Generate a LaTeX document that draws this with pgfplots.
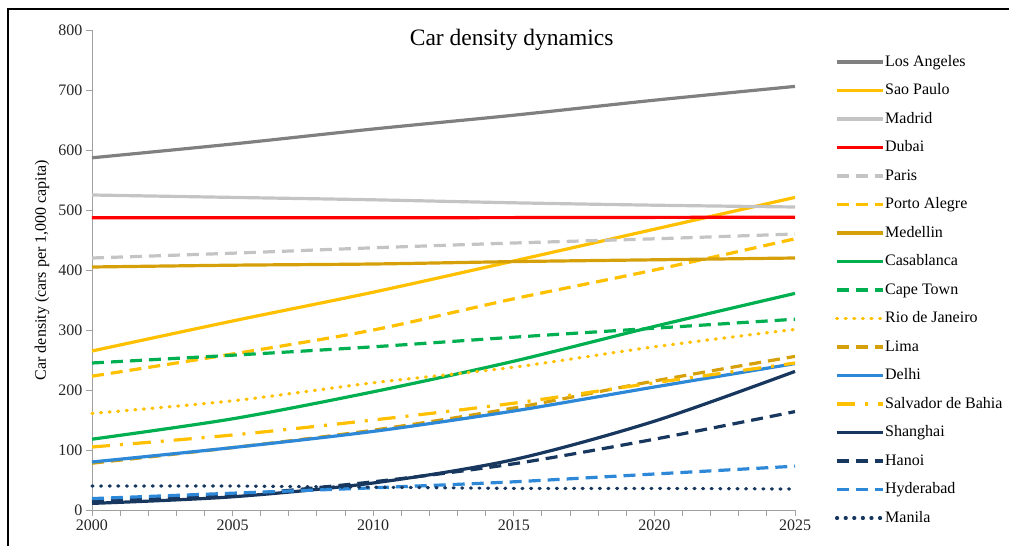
\documentclass[border=0pt]{standalone}
\usepackage{fontspec}
\setmainfont{Liberation Serif}
\usepackage{pgfplots}
\pgfplotsset{compat=1.18}

\definecolor{laGray}{RGB}{128,128,128}
\definecolor{ltGray}{RGB}{196,196,196}
\definecolor{gold}{RGB}{255,192,0}
\definecolor{ochre}{RGB}{214,160,10}
\definecolor{grn}{RGB}{0,176,80}
\definecolor{blu}{RGB}{46,136,216}
\definecolor{navy}{RGB}{23,55,94}
\definecolor{axgray}{RGB}{160,160,160}

\tikzset{
  dashedline/.style={dash pattern=on 12pt off 7pt},
  dottedline/.style={line cap=round, dash pattern=on 1pt off 7.6pt},
  dashdotline/.style={dash pattern=on 18pt off 10pt on 3pt off 10pt},
}

\begin{document}
\begin{tikzpicture}
\begin{axis}[
  at={(0,0)}, anchor=south west,
  scale only axis,
  width=703pt, height=480pt,
  xmin=2000, xmax=2025, ymin=0, ymax=800,
  axis x line=bottom, axis y line=left,
  axis line style={-, draw=axgray, line width=0.9pt},
  tick style={draw=axgray, line width=0.9pt},
  tick align=outside,
  major tick length=6pt, minor tick length=6pt,
  xtick={2000,2005,...,2025},
  minor xtick={2001,...,2024},
  ytick={0,100,...,800},
  /pgf/number format/1000 sep={},
  /pgf/number format/assume math mode=true,
  tick label style={font=\fontsize{16}{18}\selectfont, text=black!85},
  ylabel={Car density (cars per 1,000 capita)},
  ylabel style={at={(axis description cs:-0.071,0.5)}, anchor=center,
    font=\fontsize{16}{18}\selectfont},
  title={Car density dynamics},
  title style={at={(axis description cs:0.597,0.996)}, anchor=north,
    font=\fontsize{23.5}{26}\selectfont},
  clip=false,
  every axis plot post/.append style={line width=3.2pt},
  legend image code/.code={\draw[#1] (0pt,0pt) -- (46pt,0pt);},
  legend cell align=left,
  legend style={at={(axis description cs:1.0523,0.956)}, anchor=north west,
    draw=none, fill=none, font=\fontsize{16}{18}\selectfont,
    row sep=11.0pt, column sep=0pt,
    nodes={inner sep=1pt, text height=12pt, text depth=3.5pt}},
]
% Los Angeles
\addplot[laGray, smooth] coordinates {(2000,587) (2005,610) (2010,635) (2015,658) (2020,683) (2025,706)};
% Sao Paulo
\addplot[gold, smooth] coordinates {(2000,265) (2005,315) (2010,363) (2015,415) (2020,468) (2025,521)};
% Madrid
\addplot[ltGray, smooth] coordinates {(2000,525) (2005,521) (2010,517) (2015,512) (2020,508) (2025,505)};
% Dubai
\addplot[red] coordinates {(2000,487) (2010,487) (2025,488)};
% Paris
\addplot[ltGray, dashedline, smooth] coordinates {(2000,420) (2005,428) (2010,437) (2015,445) (2020,452) (2025,460)};
% Porto Alegre
\addplot[gold, dashedline, smooth] coordinates {(2000,223) (2005,260) (2010,300) (2015,352) (2020,400) (2025,452)};
% Medellin
\addplot[ochre, smooth] coordinates {(2000,405) (2005,408) (2010,410) (2015,414) (2020,417) (2025,420)};
% Casablanca
\addplot[grn, smooth] coordinates {(2000,118) (2005,152) (2010,197) (2015,248) (2020,306) (2025,361)};
% Cape Town
\addplot[grn, dashedline, smooth] coordinates {(2000,245) (2005,258) (2010,272) (2015,288) (2020,303) (2025,318)};
% Rio de Janeiro
\addplot[gold, dottedline, smooth] coordinates {(2000,161) (2005,182) (2010,212) (2015,238) (2020,272) (2025,301)};
% Lima
\addplot[ochre, dashedline, smooth] coordinates {(2000,78) (2005,104) (2010,133) (2015,170) (2020,215) (2025,256)};
% Delhi
\addplot[blu, smooth] coordinates {(2000,80) (2005,104) (2010,131) (2015,165) (2020,205) (2025,244)};
% Salvador de Bahia
\addplot[gold, dashdotline, smooth] coordinates {(2000,105) (2005,125) (2010,150) (2015,178) (2020,212) (2025,245)};
% Shanghai
\addplot[navy, smooth] coordinates {(2000,11) (2005,22) (2010,45) (2015,84) (2020,148) (2025,231)};
% Hanoi
\addplot[navy, dashedline, smooth] coordinates {(2000,15) (2005,25) (2010,47) (2015,77) (2020,118) (2025,164)};
% Hyderabad
\addplot[blu, dashedline, smooth] coordinates {(2000,19) (2005,28) (2010,37) (2015,47) (2020,60) (2025,73)};
% Manila
\addplot[navy, dottedline] coordinates {(2000,40) (2005,40) (2010,38) (2015,36) (2020,36) (2025,35)};
\legend{Los Angeles,Sao Paulo,Madrid,Dubai,Paris,Porto Alegre,Medellin,Casablanca,Cape Town,Rio de Janeiro,Lima,Delhi,Salvador de Bahia,Shanghai,Hanoi,Hyderabad,Manila}
\end{axis}
\draw[black, line width=2pt] (-84pt,-36pt) -- (-84pt,501pt) -- (917pt,501pt);
\pgfresetboundingbox
\path (-92pt,-36pt) rectangle (917pt,510pt);
\end{tikzpicture}
\end{document}
